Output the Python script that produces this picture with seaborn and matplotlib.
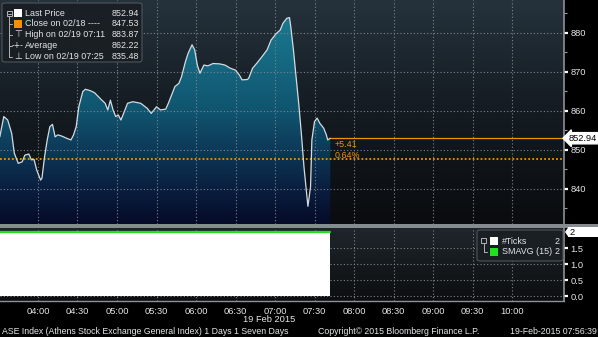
import numpy as np
import pandas as pd
import matplotlib
matplotlib.use("Agg")
import matplotlib.pyplot as plt
import seaborn as sns
from matplotlib.colors import LinearSegmentedColormap
from matplotlib.patches import FancyBboxPatch, Rectangle
from matplotlib.lines import Line2D
from matplotlib.ticker import FixedLocator, MultipleLocator

# ---------------- data ----------------
times = ["03:31", "03:34", "03:37", "03:40", "03:42", "03:45", "03:48", "03:50", "03:53", "03:55",
         "03:57", "03:59", "04:02", "04:03", "04:05", "04:07", "04:09", "04:11", "04:13", "04:15",
         "04:18", "04:22", "04:25", "04:27", "04:29", "04:31", "04:34", "04:36", "04:40", "04:43",
         "04:47", "04:51", "04:53", "04:55", "04:57", "04:59", "05:01", "05:03", "05:05", "05:08",
         "05:12", "05:18", "05:23", "05:26", "05:30", "05:33", "05:37", "05:39", "05:42", "05:44",
         "05:47", "05:49", "05:52", "05:54", "05:57", "05:59", "06:01", "06:03", "06:06", "06:09",
         "06:13", "06:18", "06:22", "06:26", "06:30", "06:33", "06:35", "06:39", "06:40", "06:43",
         "06:46", "06:50", "06:54", "06:57", "07:01", "07:04", "07:06", "07:09", "07:11", "07:12",
         "07:14", "07:16", "07:18", "07:20", "07:22", "07:24", "07:25", "07:27", "07:28", "07:30",
         "07:32", "07:34", "07:37", "07:39", "07:40", "07:42"]
prices = [853.3, 858.5, 857.6, 854.2, 849.1, 846.5, 846.9, 848.6, 848.9, 847.4,
          847.5, 844.8, 842.2, 842.7, 848.2, 852.5, 855.9, 856.5, 853.3, 853.8,
          853.5, 852.9, 852.5, 853.8, 855.9, 861.0, 864.9, 865.5, 865.1, 864.6,
          863.2, 861.9, 860.2, 862.7, 860.2, 858.5, 858.9, 857.6, 859.3, 861.9,
          862.3, 861.9, 860.6, 859.3, 861.0, 860.2, 860.4, 861.9, 864.5, 866.2,
          867.0, 868.7, 872.6, 874.7, 876.9, 875.6, 871.7, 869.6, 871.7, 871.5,
          872.1, 872.0, 871.7, 870.9, 870.4, 869.1, 867.9, 868.0, 868.3, 870.9,
          872.1, 873.8, 875.6, 878.1, 879.8, 880.7, 882.4, 883.7, 883.87, 881.5,
          875.6, 868.7, 861.9, 854.2, 845.6, 838.8, 835.48, 840.5, 852.5, 857.2,
          858.1, 856.8, 855.5, 853.8, 852.5, 852.94]

last_price = 852.94
close_prev = 847.53
close_date = "02/18"
high_price, high_label = 883.87, "02/19 07:11"
avg_price = 862.22
low_price, low_label = 835.48, "02/19 07:25"
change_abs = "+5.41"
change_pct = "0.64%"
ticks_count = 2
smavg_15 = 2
x_tick_labels = ["04:00", "04:30", "05:00", "05:30", "06:00", "06:30", "07:00",
                 "07:30", "08:00", "08:30", "09:00", "09:30", "10:00"]
price_ticks = [840, 850, 860, 870, 880]
count_ticks = [0.0, 0.5, 1.0, 1.5]
date_label = "19 Feb 2015"
footer_left = "ASE Index (Athens Stock Exchange General Index) 1 Days 1 Seven Days"
footer_mid = "Copyright\u00a9 2015 Bloomberg Finance L.P."
footer_right = "19-Feb-2015 07:56:39"


def to_min(s):
    h, m = s.split(":")
    return int(h) * 60 + int(m)


df = pd.DataFrame({"minute": [to_min(t) for t in times], "price": prices})
df["ticks"] = ticks_count
df["smavg"] = smavg_15
xt = [to_min(t) for t in x_tick_labels]

# ---------------- style ----------------
sns.set_style("dark")
plt.rcParams["font.family"] = ["Liberation Sans", "DejaVu Sans"]
plt.rcParams["axes.unicode_minus"] = False

W, H = 598, 337
fig = plt.figure(figsize=(W / 100, H / 100), dpi=100, facecolor="black")


def rect(l, t, r, b):
    return [l / W, 1 - b / H, (r - l) / W, (b - t) / H]


def fx(px):
    return px / W


def fy(py):
    return 1 - py / H


XMIN, XMAX = 211.14, 639.49
Y1MIN, Y1MAX = 830.95, 888.38
Y2MIN, Y2MAX = -0.156, 2.125

ax1 = fig.add_axes(rect(0, 0, 564, 224))
ax2 = fig.add_axes(rect(0, 228, 564, 301))

txtc = "#e4e6e8"
gridc = "#7c848c"
dot = (0, (1, 2))
orange = "#f39200"
fs = 6.4
tfs = 6.7

# ---- top panel ----
bg = LinearSegmentedColormap.from_list("bg", ["#0a0c0f", "#141b21", "#25323c"])
ax1.imshow(np.linspace(0, 1, 256).reshape(-1, 1), extent=[XMIN, XMAX, Y1MIN, Y1MAX],
           origin="lower", aspect="auto", cmap=bg, zorder=0)

poly = ax1.fill_between(df["minute"], df["price"], Y1MIN, color="none", lw=0)
teal = LinearSegmentedColormap.from_list("teal", [(0, "#050b28"), (0.16, "#0a1f40"),
                                                  (0.33, "#0d3958"), (0.5, "#10546f"),
                                                  (0.93, "#1a7a90"), (1, "#1c8098")])
im = ax1.imshow(np.linspace(0, 1, 256).reshape(-1, 1),
                extent=[df["minute"].min(), df["minute"].max(), Y1MIN, Y1MAX],
                origin="lower", aspect="auto", cmap=teal, zorder=1)
im.set_clip_path(poly.get_paths()[0], transform=ax1.transData)

for v in price_ticks:
    ax1.axhline(v, color=gridc, lw=0.8, ls=dot, zorder=2)
for v in xt:
    ax1.axvline(v, color=gridc, lw=0.8, ls=dot, zorder=2)

sns.lineplot(data=df, x="minute", y="price", ax=ax1, color="#d3dbe2", lw=0.9, zorder=4)

ax1.axhline(close_prev, color=orange, lw=1.3, ls=(0, (1, 1.2)), zorder=3)
ax1.hlines(last_price, df["minute"].iloc[-1], XMAX, color=orange, lw=0.9, zorder=3)
ax1.annotate(change_abs, xy=(df["minute"].iloc[-1], last_price), xytext=(3, -4.5),
             textcoords="offset points", color=orange, fontsize=fs, va="center", ha="left")
ax1.annotate(change_pct, xy=(df["minute"].iloc[-1], last_price), xytext=(3, -12.3),
             textcoords="offset points", color=orange, fontsize=fs, va="center", ha="left")

ax1.set_xlim(XMIN, XMAX)
ax1.set_ylim(Y1MIN, Y1MAX)
ax1.yaxis.tick_right()
ax1.yaxis.set_major_locator(FixedLocator(price_ticks))
ax1.yaxis.set_minor_locator(MultipleLocator(5))
ax1.set_yticklabels([str(v) for v in price_ticks])
ax1.tick_params(axis="y", which="major", colors="white", labelcolor=txtc, labelsize=tfs,
                length=3, width=1.6, pad=1.5, direction="out")
ax1.tick_params(axis="y", which="minor", colors="#9aa0a6", length=2.5, width=0.8, direction="out")
ax1.set_xticks([])
ax1.set_xlabel("")
ax1.set_ylabel("")
for s in ["left", "top", "bottom"]:
    ax1.spines[s].set_visible(False)
ax1.spines["right"].set_color("#8c9196")
ax1.spines["right"].set_linewidth(1.2)

ax1.annotate(f"{last_price:.2f}", xy=(1, last_price), xycoords=("axes fraction", "data"),
             xytext=(3.5, 0), textcoords="offset points", ha="left", va="center",
             fontsize=tfs, color="black",
             bbox=dict(boxstyle="larrow,pad=0.12", fc="white", ec="white"))

# ---- bottom panel ----
bg2 = LinearSegmentedColormap.from_list("bg2", ["#0c0e10", "#1f262c"])
ax2.imshow(np.linspace(0, 1, 256).reshape(-1, 1), extent=[XMIN, XMAX, Y2MIN, Y2MAX],
           origin="lower", aspect="auto", cmap=bg2, zorder=0)
for v in count_ticks:
    ax2.axhline(v, color=gridc, lw=0.8, ls=dot, zorder=1)
for v in xt:
    ax2.axvline(v, color=gridc, lw=0.8, ls=dot, zorder=1)
ax2.fill_between(df["minute"], 0, df["ticks"], color="white", lw=0, zorder=3)
sns.lineplot(data=df, x="minute", y="smavg", ax=ax2, color="#22e022", lw=1.6, zorder=4)
ax2.set_xlim(XMIN, XMAX)
ax2.set_ylim(Y2MIN, Y2MAX)
ax2.yaxis.tick_right()
ax2.yaxis.set_major_locator(FixedLocator(count_ticks))
ax2.set_yticklabels([f"{v:.1f}" for v in count_ticks])
ax2.tick_params(axis="y", which="major", colors="white", labelcolor=txtc, labelsize=tfs,
                length=3, width=1.6, pad=1.5)
ax2.xaxis.set_major_locator(FixedLocator(xt))
ax2.xaxis.set_minor_locator(FixedLocator([v + 15 for v in xt]))
ax2.set_xticklabels(x_tick_labels)
ax2.tick_params(axis="x", which="major", colors="#9aa0a6", labelcolor=txtc, labelsize=tfs,
                length=3, width=0.8, pad=1.5)
ax2.tick_params(axis="x", which="minor", colors="#9aa0a6", length=2, width=0.8)
ax2.set_xlabel("")
ax2.set_ylabel("")
for s in ["left", "top"]:
    ax2.spines[s].set_visible(False)
ax2.spines["right"].set_color("#8c9196")
ax2.spines["right"].set_linewidth(1.2)
ax2.spines["bottom"].set_color("#8c9196")
ax2.spines["bottom"].set_linewidth(1.0)

# value tag for the count panel (white flag reaching the right edge)
tag_y = fig.transFigure.inverted().transform(ax2.transData.transform((XMIN, smavg_15)))[1]
fig.add_artist(Rectangle((fx(568), tag_y - 5 / H), 1 - fx(568), 10 / H,
                         transform=fig.transFigure, fc="white", ec="none", zorder=6))
fig.add_artist(matplotlib.patches.Polygon([[fx(565), tag_y], [fx(568.5), tag_y + 5 / H],
                                           [fx(568.5), tag_y - 5 / H]], closed=True,
                                          transform=fig.transFigure, fc="white", ec="none",
                                          zorder=6))
fig.text(fx(570), tag_y, f"{smavg_15}", color="black", fontsize=tfs, ha="left", va="center",
         zorder=7)

# separator band
fig.add_artist(Rectangle((0, fy(228)), 1, 4 / H, transform=fig.transFigure,
                         fc="#868b90", ec="none", zorder=5))

# ---- legend boxes ----
def lbox(l, t, r, b):
    fig.add_artist(FancyBboxPatch((fx(l), fy(b)), fx(r) - fx(l), fy(t) - fy(b),
                                  boxstyle="round,pad=0,rounding_size=0.006",
                                  transform=fig.transFigure, fc="#1a1f24", ec="#50575e",
                                  lw=0.8, alpha=0.95, zorder=6))


def sq(l, t, size, color):
    fig.add_artist(Rectangle((fx(l), fy(t + size)), size / W, size / H,
                             transform=fig.transFigure, fc=color, ec="none", zorder=7))


def ln(x0, y0, x1, y1, c="#b0b4b8"):
    fig.add_artist(Line2D([fx(x0), fx(x1)], [fy(y0), fy(y1)], transform=fig.transFigure,
                          color=c, lw=0.7, zorder=7))


lbox(2, 3, 142, 62)
rows_y = [13.3, 24.0, 34.8, 45.7, 56.7]
labels = ["Last Price", f"Close on {close_date} ----", f"High on {high_label}", "Average",
          f"Low on {low_label}"]
values = [last_price, close_prev, high_price, avg_price, low_price]
for y, lab, val in zip(rows_y, labels, values):
    fig.text(fx(25), fy(y), lab, color=txtc, fontsize=fs, va="center", ha="left", zorder=8)
    fig.text(fx(139), fy(y), f"{val:.2f}", color=txtc, fontsize=fs, va="center", ha="right", zorder=8)
sq(14, 9, 8, "white")
sq(14, 20, 8, orange)
fig.text(fx(18), fy(rows_y[2]), "\u22a4", color=txtc, fontsize=6.5, ha="center", va="center",
         family="DejaVu Sans", zorder=8)
fig.text(fx(18), fy(rows_y[3]), "-+-", color=txtc, fontsize=5.5, ha="center", va="center",
         family="DejaVu Sans", zorder=8)
fig.text(fx(18), fy(rows_y[4]), "\u22a5", color=txtc, fontsize=6.5, ha="center", va="center",
         family="DejaVu Sans", zorder=8)
fig.add_artist(Rectangle((fx(6.5), fy(16)), 5 / W, 5 / H, transform=fig.transFigure,
                         fc="none", ec="#b0b4b8", lw=0.7, zorder=7))
ln(7.5, 13.5, 10.5, 13.5)
ln(9, 16, 9, 57)
for y in rows_y[1:]:
    ln(9, y, 12, y)

lbox(477, 230, 563, 261)
fig.text(fx(502), fy(241), "#Ticks", color=txtc, fontsize=fs, va="center", ha="left", zorder=8)
fig.text(fx(560), fy(241), f"{ticks_count}", color=txtc, fontsize=fs, va="center", ha="right", zorder=8)
fig.text(fx(502), fy(252), "SMAVG (15)", color=txtc, fontsize=fs, va="center", ha="left", zorder=8)
fig.text(fx(560), fy(252), f"{smavg_15}", color=txtc, fontsize=fs, va="center", ha="right", zorder=8)
sq(490, 237, 8, "white")
sq(490, 248, 8, "#22e022")
fig.add_artist(Rectangle((fx(481), fy(243)), 5 / W, 5 / H, transform=fig.transFigure,
                         fc="none", ec="#b0b4b8", lw=0.7, zorder=7))
ln(483.5, 243, 483.5, 252)
ln(483.5, 252, 487, 252)

# ---- footer ----
ffs = 6.3
fig.text(fx(269), fy(320), date_label, color=txtc, fontsize=tfs, ha="center", va="center")
fig.text(fx(2), fy(332), footer_left, color=txtc, fontsize=ffs, ha="left", va="center")
fig.text(fx(318), fy(332), footer_mid, color=txtc, fontsize=ffs, ha="left", va="center")
fig.text(fx(597), fy(332), footer_right, color=txtc, fontsize=ffs, ha="right", va="center")

fig.savefig("out.png", dpi=100, facecolor="black")
